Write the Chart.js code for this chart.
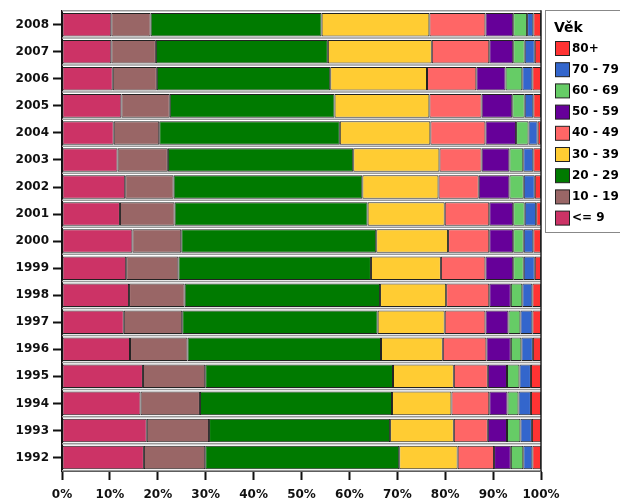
<!DOCTYPE html>
<html lang="cs">
<head>
    <meta charset="UTF-8">
    <title>Věk</title>
    <script src="https://cdn.jsdelivr.net/npm/chart.js"></script>
    <style>
        body {
            margin: 0;
            padding: 0;
            background-color: #fff;
        }
    </style>
</head>
<body>
    <canvas id="ageChart" width="620" height="499"></canvas>

    <script>
        // years, top to bottom
        var years = ['2008', '2007', '2006', '2005', '2004', '2003', '2002', '2001', '2000',
                     '1999', '1998', '1997', '1996', '1995', '1994', '1993', '1992'];

        // share of each age group in %, same order as years
        var age0_9   = [10.3, 10.3, 10.6, 12.4, 10.8, 11.6, 13.2, 12.1, 14.7, 13.4, 14.0, 12.9, 14.2, 16.9, 16.4, 17.7, 17.1];
        var age10_19 = [8.2, 9.3, 9.2, 10.1, 9.5, 10.5, 10.1, 11.4, 10.2, 10.9, 11.6, 12.2, 12.0, 13.0, 12.4, 13.0, 12.8];
        var age20_29 = [35.7, 35.9, 36.2, 34.4, 37.7, 38.7, 39.4, 40.3, 40.7, 40.2, 40.8, 40.8, 40.4, 39.2, 40.1, 37.8, 40.5];
        var age30_39 = [22.5, 21.7, 20.2, 19.8, 18.9, 18.0, 15.9, 16.1, 15.0, 14.6, 13.8, 14.0, 12.9, 12.7, 12.4, 13.3, 12.2];
        var age40_49 = [11.7, 12.0, 10.3, 10.9, 11.5, 8.8, 8.4, 9.3, 8.6, 9.3, 9.0, 8.5, 9.1, 7.1, 7.9, 7.1, 7.6];
        var age50_59 = [5.8, 5.0, 6.1, 6.4, 6.4, 5.8, 6.4, 5.0, 5.0, 5.8, 4.5, 4.8, 5.1, 4.0, 3.8, 4.0, 3.5];
        var age60_69 = [2.9, 2.4, 3.5, 2.6, 2.6, 2.9, 3.0, 2.4, 2.2, 2.2, 2.4, 2.5, 2.2, 2.6, 2.3, 2.8, 2.6];
        var age70_79 = [1.3, 2.1, 2.1, 1.8, 1.9, 2.1, 2.3, 2.4, 2.0, 2.3, 2.1, 2.5, 2.4, 2.4, 2.6, 2.4, 1.9];
        var age80    = [1.6, 1.3, 1.8, 1.6, 0.7, 1.6, 1.3, 1.0, 1.6, 1.3, 1.8, 1.8, 1.7, 2.1, 2.1, 1.9, 1.8];

        var groupNames  = ['<= 9', '10 - 19', '20 - 29', '30 - 39', '40 - 49', '50 - 59', '60 - 69', '70 - 79', '80+'];
        var groupColors = ['#cc3366', '#996666', '#007a00', '#ffcc33', '#ff6666', '#660099', '#66cc66', '#3366cc', '#ff3333'];
        var groupData   = [age0_9, age10_19, age20_29, age30_39, age40_49, age50_59, age60_69, age70_79, age80];

        var datasets = groupNames.map(function(name, i) {
            return {
                label: name,
                data: groupData[i],
                backgroundColor: groupColors[i],
                borderColor: '#222',
                borderWidth: 1,
                borderSkipped: false,
                barPercentage: 0.87,
                categoryPercentage: 1.0
            };
        });

        var tickFont = { family: 'DejaVu Sans', size: 12, weight: 'bold' };

        // frame, shadow lines under the bars and the boxed legend
        var decorations = {
            id: 'decorations',
            afterDatasetsDraw: function(chart) {
                var ctx = chart.ctx;
                var area = chart.chartArea;
                var meta = chart.getDatasetMeta(0);
                ctx.save();
                ctx.strokeStyle = '#999';
                ctx.lineWidth = 1.5;
                ctx.beginPath();
                ctx.moveTo(area.left, area.top - 0.5);
                ctx.lineTo(area.right, area.top - 0.5);
                meta.data.forEach(function(bar) {
                    var y = bar.y + bar.height / 2 + 1.5;
                    ctx.moveTo(area.left, y);
                    ctx.lineTo(area.right, y);
                });
                ctx.stroke();
                ctx.strokeStyle = '#222';
                ctx.lineWidth = 1.5;
                ctx.beginPath();
                ctx.moveTo(area.right, area.top - 1);
                ctx.lineTo(area.right, area.bottom);
                ctx.stroke();
                ctx.restore();
            },
            afterDraw: function(chart) {
                var ctx = chart.ctx;
                ctx.save();
                ctx.strokeStyle = '#888';
                ctx.lineWidth = 1;
                ctx.strokeRect(545.5, 10.5, 90, 222);

                ctx.fillStyle = '#000';
                ctx.textBaseline = 'middle';
                ctx.font = 'bold 14px "DejaVu Sans"';
                ctx.fillText('Věk', 554, 28);

                ctx.font = 'bold 12px "DejaVu Sans"';
                var sets = chart.data.datasets.slice().reverse();
                sets.forEach(function(ds, k) {
                    var cy = 48.5 + k * 21.2;
                    ctx.fillStyle = ds.backgroundColor;
                    ctx.fillRect(555.5, cy - 7, 14, 14);
                    ctx.strokeStyle = '#222';
                    ctx.strokeRect(555.5, cy - 7, 14, 14);
                    ctx.fillStyle = '#000';
                    ctx.fillText(ds.label, 572, cy);
                });
                ctx.restore();
            }
        };

        var ctx = document.getElementById('ageChart').getContext('2d');
        var ageChart = new Chart(ctx, {
            type: 'bar',
            data: {
                labels: years,
                datasets: datasets
            },
            options: {
                indexAxis: 'y',
                responsive: false,
                animation: false,
                layout: {
                    padding: { top: 11, right: 79, left: 0, bottom: 0 }
                },
                plugins: {
                    legend: { display: false },
                    tooltip: { enabled: false }
                },
                scales: {
                    x: {
                        stacked: true,
                        min: 0,
                        max: 100,
                        afterFit: function(scale) { scale.height = 28; },
                        ticks: {
                            stepSize: 10,
                            color: '#111',
                            font: tickFont,
                            padding: 8,
                            maxRotation: 0,
                            callback: function(v) { return v + '%'; }
                        },
                        grid: {
                            drawOnChartArea: false,
                            tickLength: 9,
                            tickWidth: 2,
                            tickColor: '#111'
                        },
                        border: { display: true, color: '#222', width: 1 }
                    },
                    y: {
                        stacked: true,
                        afterFit: function(scale) { scale.width = 62; },
                        ticks: {
                            color: '#111',
                            font: tickFont,
                            padding: 4
                        },
                        grid: {
                            offset: false,
                            drawOnChartArea: false,
                            tickLength: 9,
                            tickWidth: 2,
                            tickColor: '#111'
                        },
                        border: { display: true, color: '#111', width: 2 }
                    }
                }
            },
            plugins: [decorations]
        });
    </script>
</body>
</html>
